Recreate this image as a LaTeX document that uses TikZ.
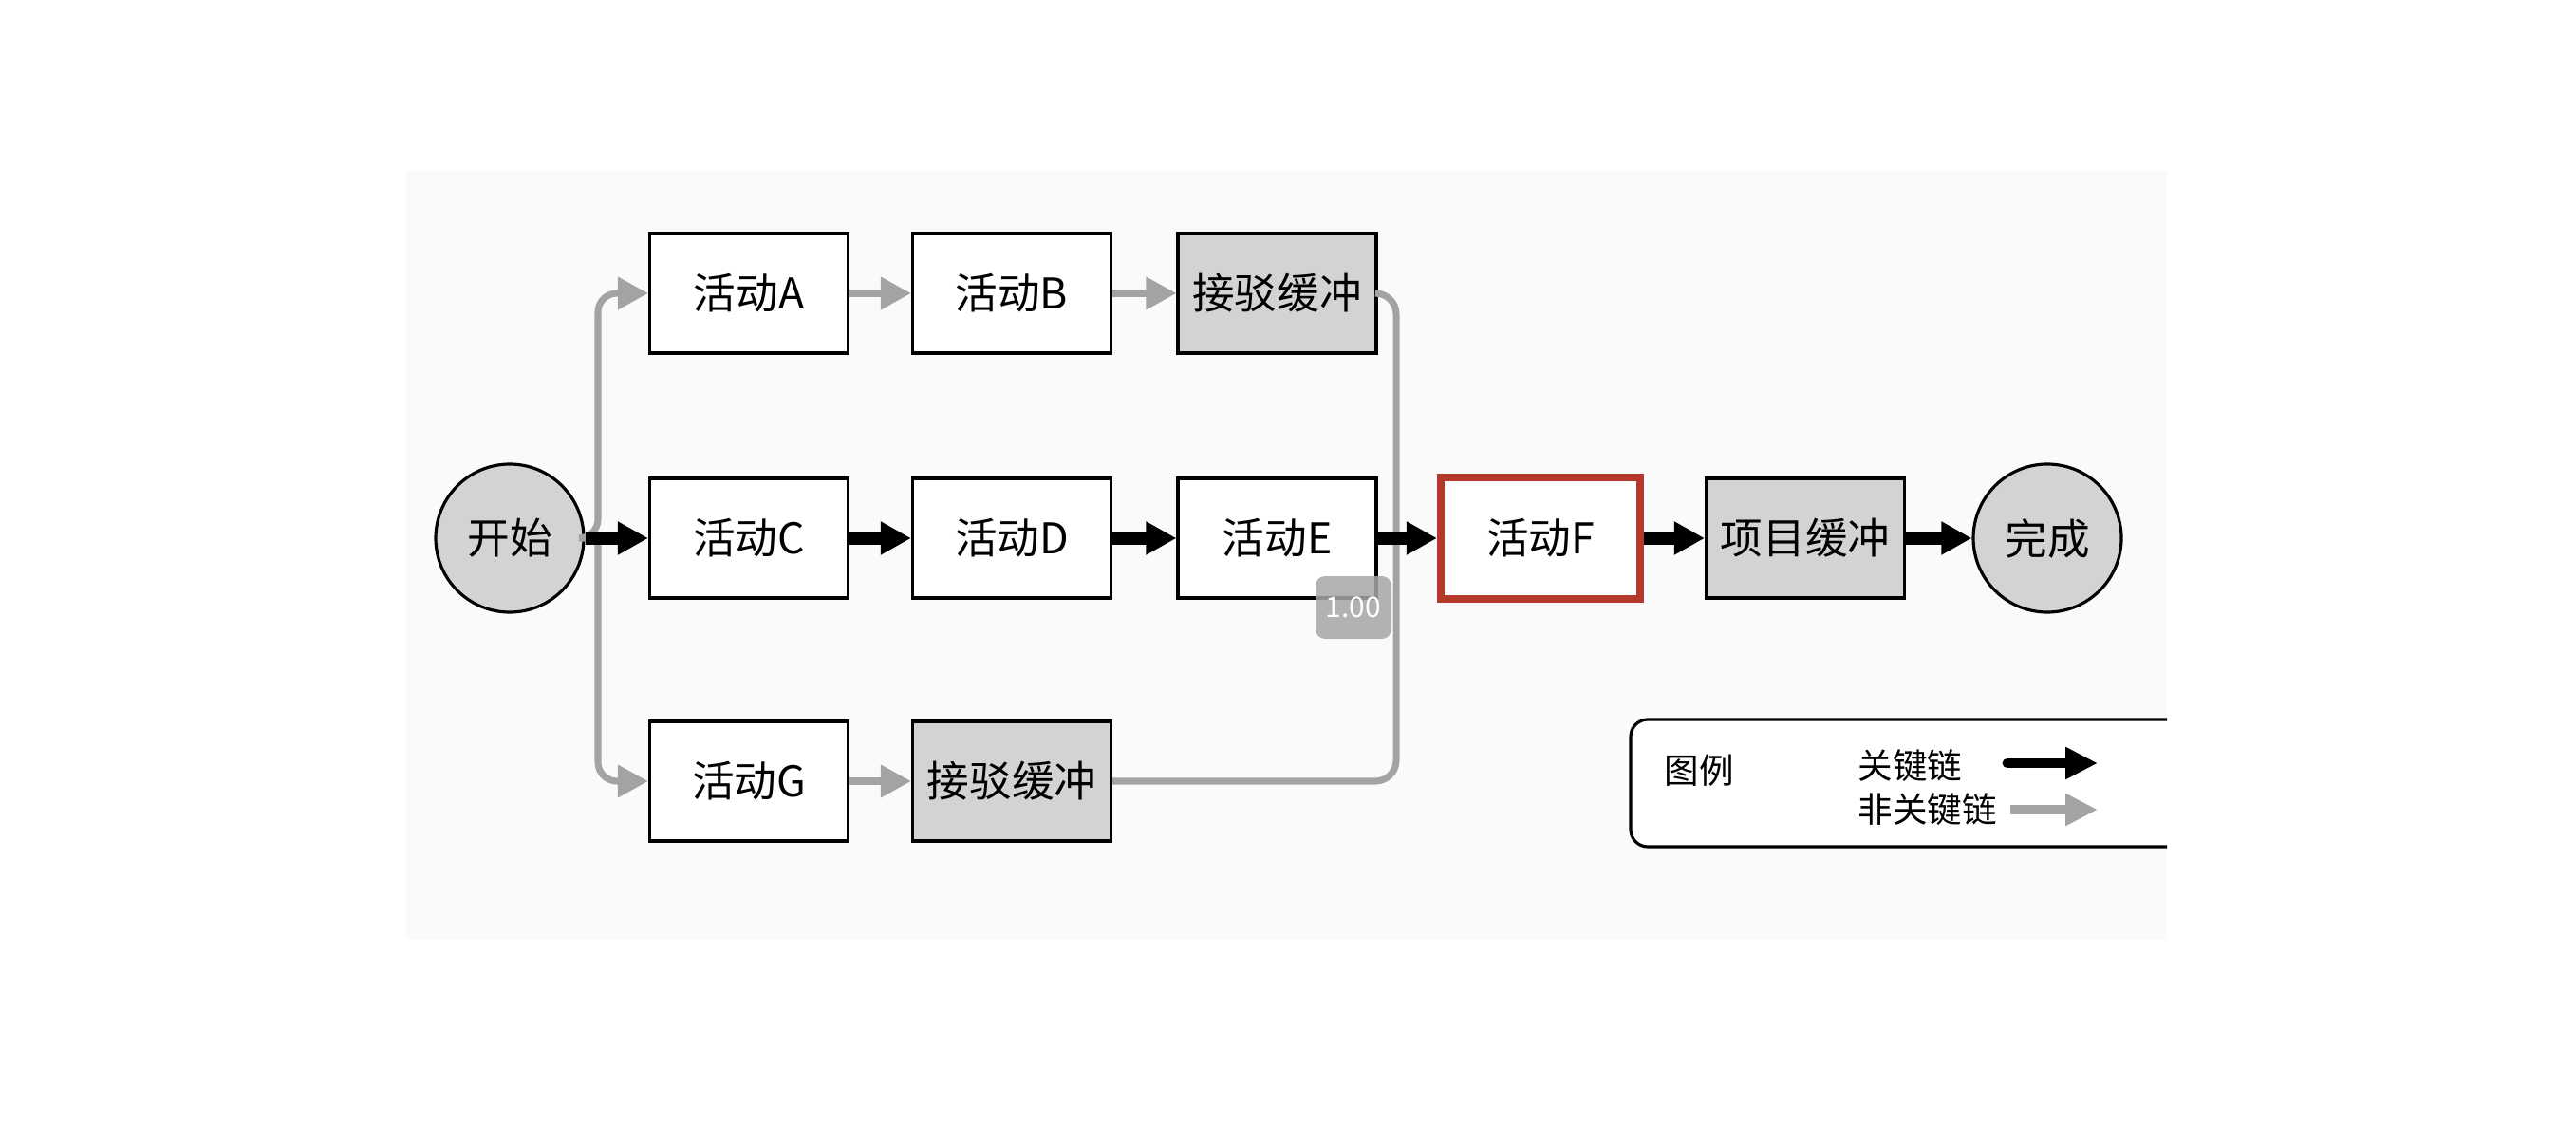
\documentclass[tikz,border=0pt]{standalone}
\usepackage{fontspec}
\setmainfont{Noto Sans CJK SC}
\usetikzlibrary{arrows.meta, positioning}
\definecolor{panelgray}{HTML}{FAFAFA}
\definecolor{bufgray}{HTML}{D3D3D3}
\definecolor{linegray}{HTML}{A3A3A3}
\definecolor{critred}{HTML}{B3392B}
\definecolor{badgegray}{HTML}{A6A6A6}

\begin{document}
\begin{tikzpicture}[
  task/.style={draw, line width=0.9pt, fill=white, minimum width=2.09cm, minimum height=1.26cm, inner sep=0pt, font=\fontsize{12.7}{15}\selectfont},
  buffer/.style={task, fill=bufgray},
  milestone/.style={circle, draw, line width=0.9pt, fill=bufgray, minimum size=1.56cm, inner sep=0pt, font=\fontsize{12.7}{15}\selectfont},
  crit/.style={line width=4.2pt, -{Triangle[length=0.32cm, width=0.33cm]}},
  noncrit/.style={line width=2pt, draw=linegray, rounded corners=0.2cm, -{Triangle[length=0.32cm, width=0.33cm, fill=linegray]}},
  noncritline/.style={line width=2pt, draw=linegray, rounded corners=0.22cm},
  keytext/.style={anchor=west, inner sep=0pt, font=\fontsize{10.4}{12}\selectfont},
  badge/.style={fill=badgegray, fill opacity=0.85, text opacity=1, text=white, rounded corners=0.1cm, minimum width=0.8cm, minimum height=0.66cm, inner sep=0pt, font=\fontsize{8.5}{9}\selectfont}
]
  \useasboundingbox (0,0) rectangle (27.14,11.80);
  % panel
  \fill[panelgray] (4.28,1.90) rectangle (22.83,10.00);
  % nodes
  \node[milestone] (start) at (5.37,6.13) {开始};
  \node[task] (A) at (7.89,8.71) {活动A};
  \node[task] (B) at (10.66,8.71) {活动B};
  \node[buffer] (buf1) at (13.455,8.71) {接驳缓冲};
  \node[task] (C) at (7.89,6.13) {活动C};
  \node[task] (D) at (10.66,6.13) {活动D};
  \node[task] (E) at (13.455,6.13) {活动E};
  \node[task] (G) at (7.89,3.57) {活动G};
  \node[buffer] (buf2) at (10.66,3.57) {接驳缓冲};
  \node[task, draw=critred, line width=2.3pt, minimum width=2.10cm, minimum height=1.28cm] (F) at (16.23,6.13) {活动F};
  \node[buffer] (pbuf) at (19.02,6.13) {项目缓冲};
  \node[milestone] (finish) at (21.57,6.13) {完成};
  % non-critical chains
  \coordinate (fork) at (6.30,6.13);
  \coordinate (join) at (14.71,6.13);
  \draw[noncrit] (start.east) -- (fork) |- (A.west);
  \draw[noncrit] (fork) |- (G.west);
  \draw[noncrit] (A) -- (B);
  \draw[noncrit] (B) -- (buf1);
  \draw[noncrit] (G) -- (buf2);
  \draw[noncritline] (buf1.east) -| (join);
  \draw[noncritline] (buf2.east) -| (join);
  % critical chain
  \draw[crit] (start) -- (C);
  \draw[crit] (C) -- (D);
  \draw[crit] (D) -- (E);
  \draw[crit] (E) -- (F);
  \draw[crit] (F) -- (pbuf);
  \draw[crit] (pbuf) -- (finish);
  \node[badge] (zoom) at (14.26,5.40) {1.00};
  % legend
  \begin{scope}
    \clip (4.28,1.90) rectangle (22.83,10.00);
    \draw[line width=0.9pt, rounded corners=0.18cm, fill=white] (17.18,2.88) rectangle (23.5,4.22);
  \end{scope}
  \node[keytext] (legend) at (17.53,3.68) {图例};
  \node[keytext] (crittext) at (19.57,3.73) {关键链};
  \node[keytext] (noncrittext) at (19.57,3.27) {非关键链};
  \coordinate (k1) at (21.15,3.76);
  \coordinate (k2) at (22.10,3.76);
  \coordinate (k3) at (21.18,3.27);
  \coordinate (k4) at (22.10,3.27);
  \draw[line width=3.1pt, line cap=round, -{Triangle[length=0.34cm, width=0.32cm]}] (k1) -- (k2);
  \draw[line width=2.8pt, draw=linegray, -{Triangle[length=0.34cm, width=0.32cm, fill=linegray]}] (k3) -- (k4);
\end{tikzpicture}
\end{document}
